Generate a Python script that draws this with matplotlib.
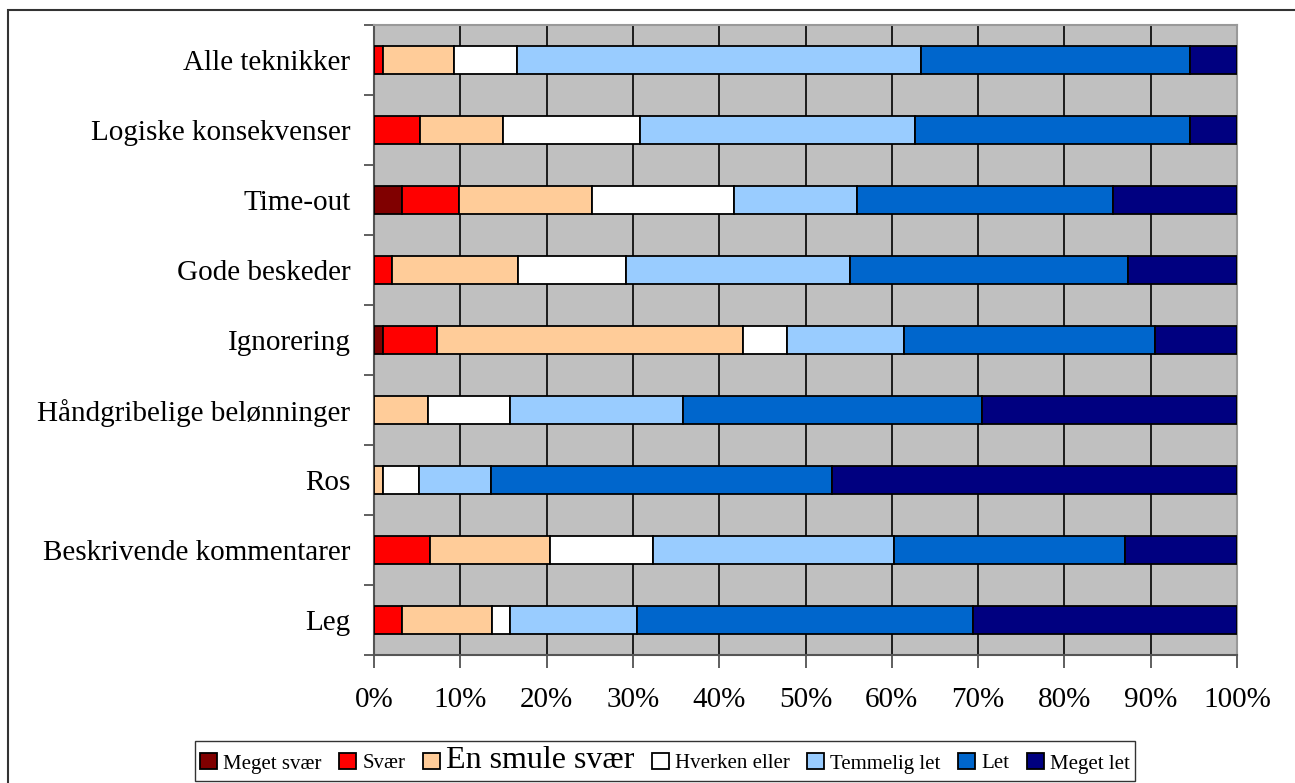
import numpy as np
import matplotlib
matplotlib.use("Agg")
import matplotlib.pyplot as plt
from matplotlib.patches import Rectangle

plt.rcParams['font.family'] = ['Liberation Serif', 'DejaVu Serif']

# =======================
# Données (en %)
# =======================
categories = ["Alle teknikker", "Logiske konsekvenser", "Time-out", "Gode beskeder",
              "Ignorering", "Håndgribelige belønninger", "Ros",
              "Beskrivende kommentarer", "Leg"]

series_names = ["Meget svær", "Svær", "En smule svær", "Hverken eller",
                "Temmelig let", "Let", "Meget let"]

meget_svaer = [0.0, 0.0, 3.3, 0.0, 1.0, 0.0, 0.0, 0.0, 0.0]
svaer = [1.0, 5.3, 6.6, 2.1, 6.3, 0.0, 0.0, 6.5, 3.2]
en_smule_svaer = [8.3, 9.6, 15.4, 14.6, 35.4, 6.3, 1.0, 13.9, 10.5]
hverken_eller = [7.3, 15.9, 16.4, 12.5, 5.2, 9.5, 4.2, 11.9, 2.1]
temmelig_let = [46.8, 31.9, 14.3, 26.0, 13.5, 20.0, 8.3, 27.9, 14.7]
let = [31.2, 31.9, 29.6, 32.2, 29.1, 34.7, 39.6, 26.8, 38.9]
meget_let = [5.4, 5.4, 14.4, 12.6, 9.5, 29.5, 46.9, 13.0, 30.6]

colors = ["#800000", "#FF0000", "#FFCC99", "#FFFFFF", "#99CCFF", "#0066CC", "#000080"]

# =======================
# Figure
# =======================
W, H = 1295, 783
fig = plt.figure(figsize=(W / 100, H / 100), dpi=100)
ax = fig.add_axes([374 / W, 1 - 655 / H, (1237 - 374) / W, (655 - 25) / H])
ax.set_facecolor("#C0C0C0")

# cadre extérieur
fig.patches.append(Rectangle((8 / W, -0.05), 1.1, 1 - 10 / H + 0.05, transform=fig.transFigure,
                             fill=False, edgecolor="#333333", linewidth=1.5))

data = np.array([meget_svaer, svaer, en_smule_svaer, hverken_eller,
                 temmelig_let, let, meget_let])
totals = data.sum(axis=0)
pct = data / totals * 100

y = np.arange(len(categories))[::-1]
left = np.zeros(len(categories))
for i, name in enumerate(series_names):
    ax.barh(y, pct[i], left=left, height=0.39, color=colors[i],
            edgecolor="black", linewidth=1.3, label=name, zorder=3)
    left += pct[i]

ax.set_xlim(0, 100)
ax.set_ylim(-0.5, len(categories) - 0.5)
ax.set_xticks(np.arange(0, 101, 10))
ax.set_xticklabels([f"{v}%" for v in range(0, 101, 10)], fontsize=21)
ax.set_yticks(y)
ax.set_yticklabels(categories, fontsize=21)
ax.set_yticks(np.arange(-0.5, len(categories), 1), minor=True)

ax.tick_params(axis="y", which="major", length=0, pad=17)
ax.tick_params(axis="y", which="minor", length=7, width=1.2, color="#444444", direction="out")
ax.tick_params(axis="x", length=9, width=1.2, color="#444444", direction="out", pad=14)

ax.grid(axis="x", color="black", linewidth=1.2, zorder=1)
ax.set_axisbelow(True)

for side in ["left", "bottom"]:
    ax.spines[side].set_color("#555555")
    ax.spines[side].set_linewidth(1.5)
for side in ["top", "right"]:
    ax.spines[side].set_color("#999999")
    ax.spines[side].set_linewidth(1.5)

leg = fig.legend(loc="center", bbox_to_anchor=(665 / W, 1 - 761 / H), ncol=7,
                 fontsize=15, frameon=True, fancybox=False, edgecolor="black",
                 handlelength=0.8, handleheight=0.8, handletextpad=0.3,
                 columnspacing=0.85, borderpad=0.25)
leg.get_frame().set_linewidth(1.0)
for t in leg.get_texts():
    if t.get_text() == "En smule svær":
        t.set_fontsize(23)

fig.savefig("out.png", dpi=100)
